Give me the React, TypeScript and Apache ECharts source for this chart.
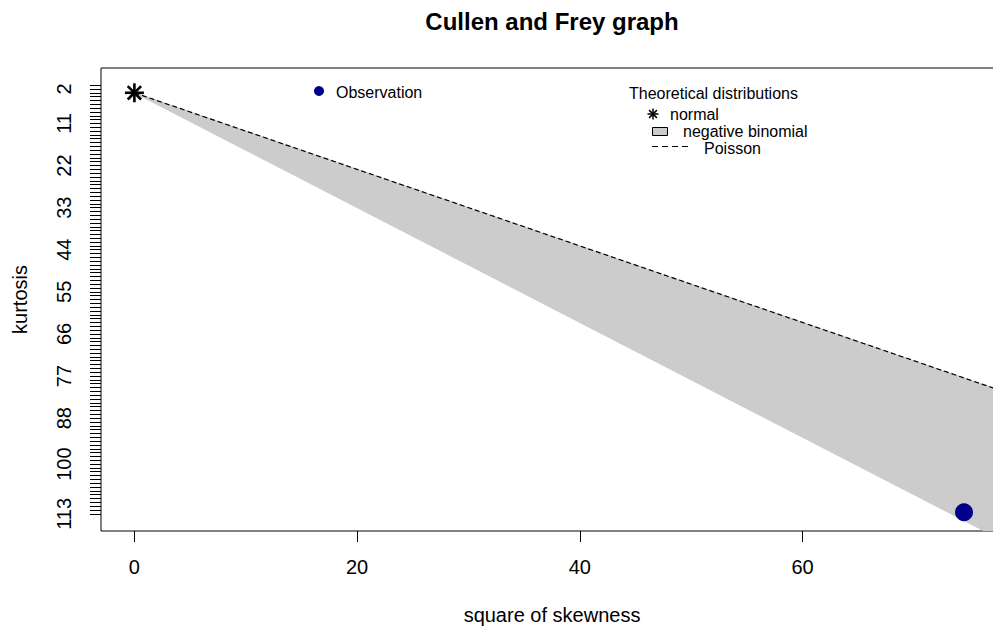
import React, { useEffect, useRef } from "react";
import * as echarts from "echarts";

// ---- data ----
const xTickValues = [0, 20, 40, 60];
const yTickLabels = [2, 11, 22, 33, 44, 55, 66, 77, 88, 100, 113];
const yMinorTicks = Array.from({ length: 113 }, (_, i) => i + 1);

const observationSkew2 = [74.5];
const observationKurt = [112.6];
const normalSkew2 = [0];
const normalKurt = [3];
const poissonSkew2 = [0, 100];
const poissonKurt = [3, 103];
const nbLowerSkew2 = [0, 100];
const nbLowerKurt = [3, 153];
const nbUpperSkew2 = [0, 100];
const nbUpperKurt = [3, 103];

const FONT = "'Liberation Sans', Arial, Helvetica, sans-serif";
const NAVY = "#00008B";
const GREY80 = "#CCCCCC";

function asteriskLines(cx: number, cy: number, r: number, lw: number) {
  const children: any[] = [];
  [0, 45, 90, 135].forEach((a) => {
    const t = (a * Math.PI) / 180;
    const dx = Math.cos(t) * r;
    const dy = Math.sin(t) * r;
    children.push({
      type: "line",
      shape: { x1: cx - dx, y1: cy - dy, x2: cx + dx, y2: cy + dy },
      style: { stroke: "#000", lineWidth: lw },
    });
  });
  return children;
}

export default function App() {
  const ref = useRef<HTMLDivElement>(null);

  useEffect(() => {
    if (!ref.current) return;
    const chart = echarts.init(ref.current, undefined, { renderer: "svg" });

    const polygonPts: number[][] = [];
    nbLowerSkew2.forEach((s, i) => polygonPts.push([s, nbLowerKurt[i]]));
    for (let i = nbUpperSkew2.length - 1; i >= 0; i--) {
      polygonPts.push([nbUpperSkew2[i], nbUpperKurt[i]]);
    }

    const option: any = {
      animation: false,
      grid: {
        left: 101,
        top: 68,
        width: 902,
        height: 463.7,
        show: true,
        borderColor: "#000",
        borderWidth: 1,
        backgroundColor: "transparent",
      },
      xAxis: {
        type: "value",
        min: -3,
        max: 78,
        name: "square of skewness",
        nameLocation: "middle",
        nameGap: 74,
        nameTextStyle: { fontFamily: FONT, fontSize: 20, color: "#000" },
        axisLine: { show: false, onZero: false },
        splitLine: { show: false },
        axisTick: {
          show: true,
          length: 11,
          lineStyle: { color: "#000", width: 1 },
          customValues: xTickValues,
        },
        axisLabel: {
          customValues: xTickValues,
          fontFamily: FONT,
          fontSize: 20,
          color: "#000",
          margin: 26,
        },
      },
      yAxis: {
        type: "value",
        inverse: true,
        min: -3.48,
        max: 117.48,
        name: "kurtosis",
        nameLocation: "middle",
        nameGap: 71,
        nameTextStyle: { fontFamily: FONT, fontSize: 20, color: "#000" },
        axisLine: { show: false, onZero: false },
        splitLine: { show: false },
        axisTick: {
          show: true,
          length: 11,
          lineStyle: { color: "#000", width: 1 },
          customValues: yMinorTicks,
        },
        axisLabel: {
          customValues: yTickLabels,
          rotate: 90,
          fontFamily: FONT,
          fontSize: 20,
          color: "#000",
          margin: 27,
        },
      },
      series: [
        {
          name: "negative binomial",
          type: "custom",
          clip: true,
          silent: true,
          data: [[0, 3]],
          renderItem: (_params: any, api: any) => {
            const pts = polygonPts.map((p) => api.coord(p));
            return {
              type: "polygon",
              shape: { points: pts },
              style: { fill: GREY80, stroke: GREY80, lineWidth: 1 },
            };
          },
          z: 1,
        },
        {
          name: "Poisson",
          type: "line",
          data: poissonSkew2.map((s, i) => [s, poissonKurt[i]]),
          symbol: "none",
          clip: true,
          lineStyle: { color: "#000", width: 1.2, type: [5, 3] },
          z: 2,
        },
        {
          name: "Observation",
          type: "scatter",
          data: observationSkew2.map((s, i) => [s, observationKurt[i]]),
          symbol: "circle",
          symbolSize: 18,
          itemStyle: { color: NAVY, opacity: 1 },
          z: 3,
        },
        {
          name: "normal",
          type: "custom",
          data: normalSkew2.map((s, i) => [s, normalKurt[i]]),
          renderItem: (params: any, api: any) => {
            const c = api.coord([api.value(0), api.value(1)]);
            return {
              type: "group",
              children: asteriskLines(c[0], c[1], 9.5, 2.6),
            };
          },
          z: 4,
        },
      ],
      graphic: [
        {
          type: "text",
          x: 552,
          y: 21,
          style: {
            text: "Cullen and Frey graph",
            font: `bold 24px ${FONT}`,
            fill: "#000",
            textAlign: "center",
            textVerticalAlign: "middle",
          },
        },
        {
          type: "circle",
          shape: { cx: 319, cy: 91, r: 5 },
          style: { fill: NAVY },
        },
        {
          type: "text",
          x: 336,
          y: 92,
          style: {
            text: "Observation",
            font: `16px ${FONT}`,
            fill: "#000",
            textAlign: "left",
            textVerticalAlign: "middle",
          },
        },
        {
          type: "text",
          x: 629,
          y: 93,
          style: {
            text: "Theoretical distributions",
            font: `16px ${FONT}`,
            fill: "#000",
            textAlign: "left",
            textVerticalAlign: "middle",
          },
        },
        {
          type: "group",
          children: asteriskLines(653, 114, 5.5, 1.5),
        },
        {
          type: "text",
          x: 670,
          y: 114,
          style: {
            text: "normal",
            font: `16px ${FONT}`,
            fill: "#000",
            textAlign: "left",
            textVerticalAlign: "middle",
          },
        },
        {
          type: "rect",
          shape: { x: 652.5, y: 127.5, width: 15, height: 8 },
          style: { fill: GREY80, stroke: "#000", lineWidth: 1 },
        },
        {
          type: "text",
          x: 683,
          y: 131,
          style: {
            text: "negative binomial",
            font: `16px ${FONT}`,
            fill: "#000",
            textAlign: "left",
            textVerticalAlign: "middle",
          },
        },
        {
          type: "line",
          shape: { x1: 652, y1: 146.5, x2: 688, y2: 146.5 },
          style: { stroke: "#000", lineWidth: 1.2, lineDash: [6, 4] },
        },
        {
          type: "text",
          x: 704,
          y: 148,
          style: {
            text: "Poisson",
            font: `16px ${FONT}`,
            fill: "#000",
            textAlign: "left",
            textVerticalAlign: "middle",
          },
        },
      ],
    };

    chart.setOption(option);
    return () => chart.dispose();
  }, []);

  return (
    <div
      style={{
        position: "fixed",
        left: 0,
        top: 0,
        width: 993,
        height: 630,
        overflow: "hidden",
        background: "#fff",
      }}
    >
      <div ref={ref} style={{ width: 1012, height: 630 }} />
    </div>
  );
}
